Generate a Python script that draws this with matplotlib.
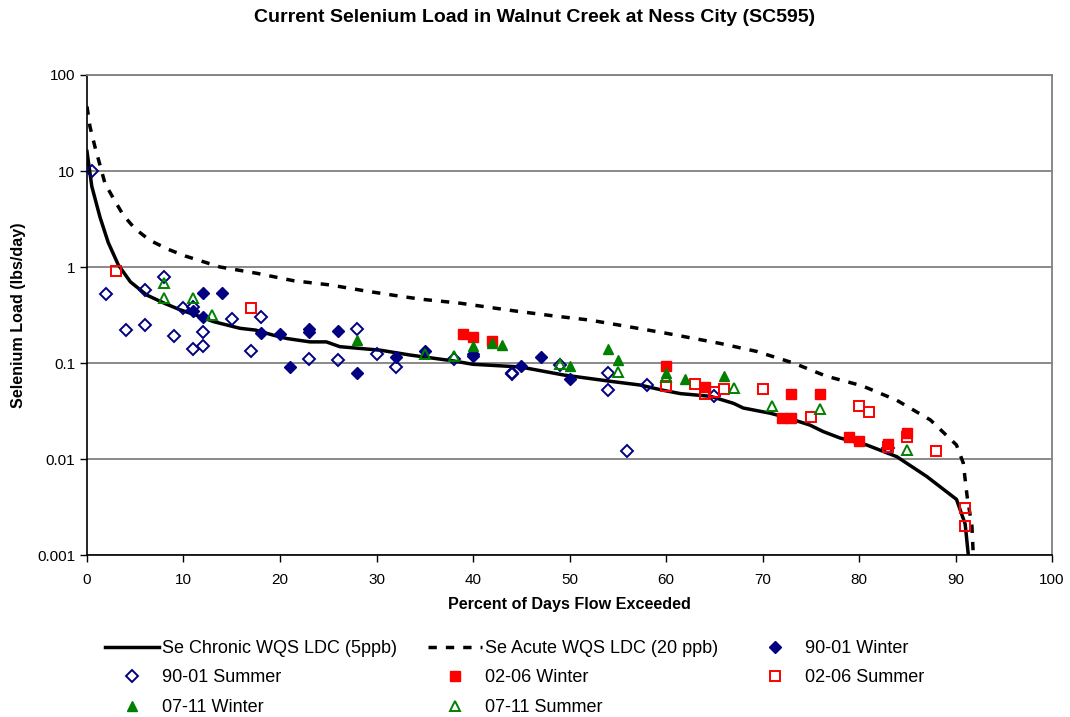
import matplotlib

matplotlib.use("Agg")

import matplotlib.pyplot as plt
from matplotlib.ticker import FixedLocator, FixedFormatter, NullLocator

plt.rcParams["font.family"] = ["Liberation Sans", "DejaVu Sans"]

# load duration curves
chronic_x = [0.0, 0.5, 1.35, 2.2, 3.25, 4.5, 6.2, 8.0, 9.6, 11.5, 13.1, 15.85, 17.5, 19.3, 20.7,
             23.1, 24.8, 26.2, 30.4, 33.5, 38.0, 40.0, 44.9, 49.4, 54.5, 57.3, 59.7, 61.5, 64.6,
             67.0, 68.0, 70.8, 72.5, 74.9, 76.3, 78.0, 80.8, 83.9, 87.0, 90.1, 91.0, 91.35]
chronic_y = [16.0, 6.9, 3.3, 1.8, 1.05, 0.7, 0.51, 0.42, 0.36, 0.31, 0.27, 0.23, 0.22, 0.195, 0.18,
             0.166, 0.166, 0.148, 0.136, 0.121, 0.105, 0.097, 0.091, 0.075, 0.064, 0.059, 0.052, 0.048, 0.045,
             0.038, 0.034, 0.030, 0.027, 0.0226, 0.0193, 0.0166, 0.014, 0.0106, 0.0066, 0.0038, 0.0021, 0.00095]

acute_x = [0.0, 0.31, 0.83, 1.87, 2.73, 3.76, 4.97, 6.5, 8.4, 10.2, 13.8, 17.6, 21.4, 25.2, 29.0,
           32.8, 34.8, 38.65, 44.2, 48.3, 52.1, 56.0, 59.7, 63.7, 65.6, 69.4, 73.2, 76.6, 80.3,
           83.9, 87.4, 90.1, 90.8, 91.2, 91.7, 91.85]
acute_y = [47.0, 29.0, 17.8, 7.4, 5.2, 3.47, 2.51, 1.9, 1.53, 1.30, 1.0, 0.86, 0.72, 0.65, 0.56,
           0.49, 0.46, 0.42, 0.35, 0.31, 0.28, 0.24, 0.207, 0.174, 0.16, 0.132, 0.1, 0.073, 0.058,
           0.041, 0.0255, 0.014, 0.0091, 0.0041, 0.002, 0.00095]

# sampled loads
w9001_x = [11, 12, 12, 14, 18, 20, 21, 23, 23, 26, 28, 32, 35, 40, 40, 45, 47, 50]
w9001_y = [0.35, 0.54, 0.30, 0.53, 0.205, 0.2, 0.09, 0.225, 0.21, 0.215, 0.079, 0.115, 0.135,
           0.125, 0.118, 0.093, 0.116, 0.068]

s9001_x = [0.5, 2, 4, 6, 6, 8, 9, 10, 11, 11, 12, 12, 15, 17, 18, 23, 26, 28, 30, 32, 38, 44, 44,
           49, 54, 54, 56, 58, 65, 83]
s9001_y = [10.0, 0.52, 0.22, 0.58, 0.25, 0.78, 0.19, 0.37, 0.38, 0.14, 0.21, 0.15, 0.29, 0.135,
           0.30, 0.11, 0.107, 0.225, 0.125, 0.091, 0.11, 0.079, 0.076, 0.095, 0.079, 0.052, 0.012,
           0.059, 0.045, 0.013]

w0206_x = [39, 40, 42, 60, 64, 72, 73, 73, 76, 79, 80, 83, 85]
w0206_y = [0.2, 0.185, 0.17, 0.094, 0.056, 0.027, 0.027, 0.048, 0.047, 0.017, 0.0155, 0.0145, 0.0185]

s0206_x = [3, 17, 60, 63, 64, 65, 66, 70, 75, 80, 81, 83, 85, 88, 91, 91]
s0206_y = [0.9, 0.37, 0.058, 0.06, 0.048, 0.05, 0.053, 0.054, 0.0275, 0.036, 0.031, 0.0135,
           0.017, 0.012, 0.0031, 0.002]

w0711_x = [28, 40, 42, 43, 50, 54, 55, 60, 62, 66]
w0711_y = [0.175, 0.15, 0.16, 0.155, 0.093, 0.14, 0.108, 0.078, 0.068, 0.074]

s0711_x = [8, 8, 11, 13, 35, 38, 49, 55, 60, 67, 71, 76, 85]
s0711_y = [0.68, 0.47, 0.48, 0.32, 0.125, 0.117, 0.097, 0.081, 0.071, 0.055, 0.036, 0.033, 0.0125]

y_ticks = [0.001, 0.01, 0.1, 1, 10, 100]
y_tick_labels = ["0.001", "0.01", "0.1", "1", "10", "100"]

NAVY = "#000080"
RED = "#ff0000"
GREEN = "#008000"

fig = plt.figure(figsize=(10.7, 7.17), dpi=100)
ax = fig.add_axes([0.0813, 0.2259, 0.9019, 0.6695])

for y in y_ticks:
    ax.axhline(y, color="#808080", lw=1.3, zorder=0)

h_chr, = ax.plot(chronic_x, chronic_y, color="black", lw=2.5, label="Se Chronic WQS LDC (5ppb)", zorder=3)
h_acu, = ax.plot(acute_x, acute_y, color="black", lw=2.5, dashes=(2.4, 2.6),
                 label="Se Acute WQS LDC (20 ppb)", zorder=3)

ms = 6.5
h_w9001, = ax.plot(w9001_x, w9001_y, ls="none", marker="D", ms=ms - 0.5, color=NAVY,
                   mec=NAVY, label="90-01 Winter", zorder=4)
h_s9001, = ax.plot(s9001_x, s9001_y, ls="none", marker="D", ms=ms - 0.5, mfc="none",
                   mec=NAVY, mew=1.4, label="90-01 Summer", zorder=4)
h_w0206, = ax.plot(w0206_x, w0206_y, ls="none", marker="s", ms=ms, color=RED, mec=RED,
                   label="02-06 Winter", zorder=4)
h_s0206, = ax.plot(s0206_x, s0206_y, ls="none", marker="s", ms=ms, mfc="none", mec=RED,
                   mew=1.4, label="02-06 Summer", zorder=4)
h_w0711, = ax.plot(w0711_x, w0711_y, ls="none", marker="^", ms=ms + 0.5, color=GREEN, mec=GREEN,
                   label="07-11 Winter", zorder=4)
h_s0711, = ax.plot(s0711_x, s0711_y, ls="none", marker="^", ms=ms + 0.5, mfc="none", mec=GREEN,
                   mew=1.4, label="07-11 Summer", zorder=4)

ax.set_yscale("log")
ax.set_ylim(0.001, 100)
ax.set_xlim(0, 100)
ax.yaxis.set_major_locator(FixedLocator(y_ticks))
ax.yaxis.set_major_formatter(FixedFormatter(y_tick_labels))
ax.yaxis.set_minor_locator(NullLocator())
ax.set_xticks(range(0, 101, 10))
ax.tick_params(direction="out", length=5, width=1, labelsize=11, colors="black")
ax.tick_params(axis="x", pad=8)
for side in ("top", "right"):
    ax.spines[side].set_color("#808080")
    ax.spines[side].set_linewidth(1.3)
for side in ("left", "bottom"):
    ax.spines[side].set_color("black")
    ax.spines[side].set_linewidth(1.2)

ax.set_xlabel("Percent of Days Flow Exceeded", fontsize=11.6, fontweight="bold", labelpad=7)
ax.set_ylabel("Selenium Load (lbs/day)", fontsize=11.6, fontweight="bold", labelpad=8)
fig.suptitle("Current Selenium Load in Walnut Creek at Ness City (SC595)", fontsize=14,
             fontweight="bold", x=0.5, y=0.988)

handles = [h_chr, h_s9001, h_w0711, h_acu, h_w0206, h_s0711, h_w9001, h_s0206]
fig.legend(handles=handles, labels=[h.get_label() for h in handles], ncol=3, frameon=False,
           loc="upper left", bbox_to_anchor=(0.083, 0.130), fontsize=13, handlelength=3.0,
           columnspacing=1.7, labelspacing=0.69, handletextpad=0.15)

fig.savefig("out.png", dpi=100)
